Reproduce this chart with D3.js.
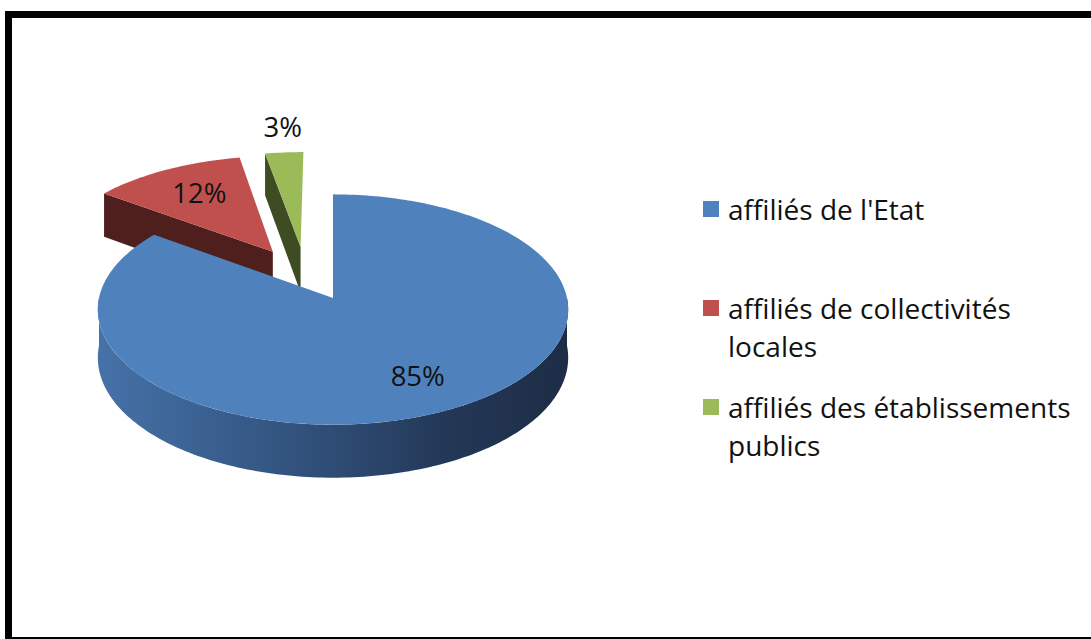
<!DOCTYPE html>
<meta charset="utf-8">
<style>
body { margin: 0; background: #fff; }
svg { display: block; }
.lbl, .legend text { font-family: "Open Sans", sans-serif; fill: #111; }
.lbl { font-size: 27.5px; }
.legend text { font-size: 28px; }
</style>
<body>
<svg id="chart" width="1091" height="639"></svg>
<script src="https://cdn.jsdelivr.net/npm/d3@7"></script>
<script>

// data
var categories = ["affiliés de l'Etat", "affiliés de collectivités locales", "affiliés des établissements publics"];
var legendLines = [["affiliés de l'Etat"], ["affiliés de collectivités", "locales"], ["affiliés des établissements", "publics"]];
var values = [85, 12, 3];
var labels = ["85%", "12%", "3%"];

// look of the slices
var topColors = ["#4f81bd", "#c0504d", "#9bbb59"];
var sideColors = ["url(#blueSide)", "#4f1f1e", "#3e4c23"];
var explode = [[0, 0], [-0.268, -0.422], [-0.145, -0.468]];   // in disc units
var labelRadius = [0.72, 0.7, 1.3];

var cx = 333, cy = 298, rx = 234, ry = 114, depth = 47.7, persp = 0.1;

var svg = d3.select("#chart");

// frame
svg.append("rect")
   .attr("x", 8.5).attr("y", 14.5)
   .attr("width", 1200).attr("height", 626)
   .attr("fill", "none")
   .attr("stroke", "#000")
   .attr("stroke-width", 7);

var defs = svg.append("defs");
var grad = defs.append("linearGradient")
               .attr("id", "blueSide")
               .attr("gradientUnits", "userSpaceOnUse")
               .attr("x1", cx - rx).attr("x2", cx + rx)
               .attr("y1", 0).attr("y2", 0);
[[0, "#4672a8"], [0.45, "#30507a"], [0.75, "#233756"], [1, "#1d2d46"]].forEach(function(s) {
  grad.append("stop").attr("offset", s[0]).attr("stop-color", s[1]);
});

// disc (u, v) plus height z -> screen, with a little perspective
function proj(u, v, z) {
  var p = 1 / (1 - persp * v);
  return [cx + rx * u * p, cy + ry * v * p + z * depth * p];
}
function pt(a, r, off, z) {
  return proj(off[0] + r * Math.sin(a), off[1] - r * Math.cos(a), z);
}
function arcPts(a0, a1, off, z) {
  var n = Math.max(2, Math.ceil((a1 - a0) / 0.02)), pts = [];
  for (var i = 0; i <= n; i++) pts.push(pt(a0 + (a1 - a0) * i / n, 1, off, z));
  return pts;
}
var line = d3.line();

var arcs = d3.pie().sort(null)(values).map(function(d, i) {
  d.i = i;
  d.mid = (d.startAngle + d.endAngle) / 2;
  return d;
});

// back slices first
var order = arcs.slice().sort(function(a, b) {
  return -Math.cos(a.mid) - -Math.cos(b.mid);
});

var pie = svg.append("g");

order.forEach(function(d) {
  var g = pie.append("g");
  var off = explode[d.i];
  var a0 = d.startAngle, a1 = d.endAngle;

  // outer wall, front half only
  var s0 = Math.max(a0, Math.PI / 2), s1 = Math.min(a1, 3 * Math.PI / 2);
  if (s1 > s0) {
    var wall = arcPts(s0, s1, off, 0).concat(arcPts(s0, s1, off, 1).reverse());
    g.append("path").attr("d", line(wall) + "Z").attr("fill", sideColors[d.i]);
  }
  // radial faces
  [[a0, Math.sin(a0) < -1e-6], [a1, Math.sin(a1) > 1e-6]].forEach(function(f) {
    if (!f[1]) return;
    var face = [pt(0, 0, off, 0), pt(f[0], 1, off, 0), pt(f[0], 1, off, 1), pt(0, 0, off, 1)];
    g.append("path").attr("d", line(face) + "Z").attr("fill", sideColors[d.i]);
  });
  // top
  var top = [pt(0, 0, off, 0)].concat(arcPts(a0, a1, off, 0));
  g.append("path").attr("d", line(top) + "Z").attr("fill", topColors[d.i]);
});

// percentage labels
arcs.forEach(function(d) {
  var p = pt(d.mid, labelRadius[d.i], explode[d.i], 0);
  svg.append("text")
     .attr("class", "lbl")
     .attr("x", p[0] + 3).attr("y", p[1])
     .attr("dy", "0.35em")
     .attr("text-anchor", "middle")
     .text(labels[d.i]);
});

// legend
var legendY = d3.scalePoint().domain(d3.range(categories.length)).range([209, 407]);
var legend = svg.append("g").attr("class", "legend");
categories.forEach(function(c, i) {
  var y = legendY(i);
  legend.append("rect")
        .attr("x", 703).attr("y", y - 8)
        .attr("width", 16).attr("height", 16)
        .attr("fill", topColors[i]);
  var t = legend.append("text").attr("x", 728).attr("y", y + 11);
  legendLines[i].forEach(function(l, j) {
    t.append("tspan").attr("x", 728).attr("dy", j ? 38 : 0).text(l);
  });
});

</script>
</body>
